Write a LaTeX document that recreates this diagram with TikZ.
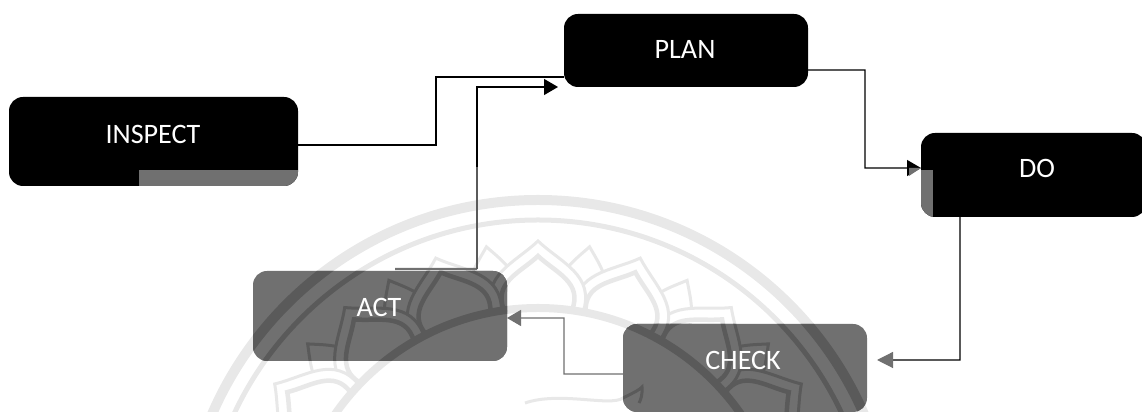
\documentclass[tikz,border=0pt]{standalone}
\usepackage{fontspec}
\setmainfont{Carlito}
\usetikzlibrary{arrows.meta}
\definecolor{boxgrey}{HTML}{707070}
\definecolor{sealpale}{HTML}{E8E8E8}
\definecolor{sealdark}{HTML}{5A5A5A}
\tikzset{
  blackbox/.style={fill=black, rounded corners=.28cm, inner sep=0pt, outer sep=0pt},
  greybox/.style={fill=boxgrey, rounded corners=.28cm, inner sep=0pt, outer sep=0pt},
  boxtext/.style={text=white, font=\fontsize{16}{16}\selectfont},
  link/.style={line width=.7pt, >={Stealth[length=.28cm, width=.32cm, inset=0pt]}},
}
% #1 line colour, #2 colour inside the petals
\newcommand{\sealmarks}[2]{
  \draw [#1, line width=.2cm] (10.76,-2.86) circle (7.1);
  \draw [#1, line width=.1cm] (10.76,-2.86) circle (6.7);
  \foreach \ang in {-85.5,-66.5,-47.5,-28.5,-9.5,9.5,28.5,47.5,66.5,85.5} {
    \begin{scope}[shift={(10.76,-2.86)}, rotate=\ang]
      \draw [#1, fill=#2, line width=.06cm] (-.5,5.3) .. controls (-.5,5.7) and (-.2,6) .. (0,6.25) .. controls (.2,6) and (.5,5.7) .. (.5,5.3);
    \end{scope}
  }
  \foreach \ang in {-76,-57,-38,-19,0,19,38,57,76} {
    \begin{scope}[shift={(10.76,-2.86)}, rotate=\ang]
      \draw [#1, fill=#2, line width=.06cm] (-.9,4.85) .. controls (-1.15,5.6) and (-.45,5.85) .. (0,6.28) .. controls (.45,5.85) and (1.15,5.6) .. (.9,4.85);
      \draw [#1, line width=.09cm] (-.68,4.9) .. controls (-.9,5.45) and (-.35,5.65) .. (0,5.98) .. controls (.35,5.65) and (.9,5.45) .. (.68,4.9);
    \end{scope}
  }
  \draw [#1, fill=#2, line width=.16cm] (10.76,-2.86) circle (4.94);
  \draw [#1, line width=.06cm] (10.5,.18) .. controls (11.2,.42) and (12.2,.1) .. (12.46,.28) .. controls (12.7,.4) and (12.8,.45) .. (12.84,.5) .. controls (12.85,.35) and (12.82,.25) .. (12.78,.18);
}

\begin{document}
\begin{tikzpicture}
  \useasboundingbox (0,0) rectangle (22.84,8.24);
  \sealmarks{sealpale}{white}

  \node [blackbox, minimum width=5.78cm, minimum height=1.78cm] (inspect) at (3.07,5.41) {};
  \node [blackbox, minimum width=4.88cm, minimum height=1.46cm] (plan) at (13.72,7.23) {};
  \node [blackbox, minimum width=4.5cm, minimum height=1.68cm] (do) at (20.67,4.74) {};
  \node [greybox, minimum width=5.08cm, minimum height=1.8cm] (act) at (7.6,1.92) {};
  \node [greybox, minimum width=4.88cm, minimum height=1.76cm] (check) at (14.9,0.88) {};

  % grey parts of the black boxes
  \begin{scope}
    \clip [rounded corners=.28cm] (inspect.south west) rectangle (inspect.north east);
    \fill [boxgrey] (2.78,4.48) rectangle (5.96,4.84);
  \end{scope}
  \begin{scope}
    \clip [rounded corners=.28cm] (do.south west) rectangle (do.north east);
    \fill [boxgrey] (18.42,3.9) rectangle (18.66,4.84);
  \end{scope}

  % seal seen through the grey boxes
  \begin{scope}
    \clip [rounded corners=.28cm] (act.south west) rectangle (act.north east);
    \sealmarks{sealdark}{boxgrey}
  \end{scope}
  \begin{scope}
    \clip [rounded corners=.28cm] (check.south west) rectangle (check.north east);
    \sealmarks{sealdark}{boxgrey}
  \end{scope}

  \node [boxtext] (inspecttext) at (3.06,5.56) {INSPECT};
  \node [boxtext] (plantext) at (13.7,7.26) {PLAN};
  \node [boxtext] (dotext) at (20.74,4.88) {DO};
  \node [boxtext] (acttext) at (7.58,2.1) {ACT};
  \node [boxtext] (checktext) at (14.86,1.04) {CHECK};

  \coordinate (inspectbend) at (8.72,5.34);
  \coordinate (actbend) at (9.54,2.86);
  \coordinate (actmid) at (9.54,4.9);
  \coordinate (planbend) at (17.3,6.84);
  \coordinate (dobend) at (19.2,1.04);
  \coordinate (checkbend) at (11.28,0.76);

  \draw [link] ([yshift=-.07cm]inspect.east) -- (inspectbend) |- ([yshift=-.53cm]plan.west);
  \draw [link, boxgrey, line width=1.2pt] ([xshift=.3cm, yshift=.04cm]act.north) -- (actbend);
  \draw [link, sealdark] (actbend) -- (actmid);
  \draw [link, ->] (actmid) |- ([xshift=-.12cm, yshift=-.73cm]plan.west);
  \draw [link, ->] ([yshift=-.39cm]plan.east) -- (planbend) |- ([yshift=.14cm]do.west);
  \fill [boxgrey] (18.18,4.88) -- (18.42,4.88) -- (18.18,4.72) -- cycle;
  \draw [link, -{Stealth[length=.32cm, width=.32cm, inset=0pt, color=boxgrey]}] ([xshift=-1.47cm]do.south) -- (dobend) -- ([xshift=.2cm, yshift=.16cm]check.east);
  \draw [link, boxgrey, ->] ([yshift=-.12cm]check.west) -- (checkbend) |- ([yshift=-.04cm]act.east);
\end{tikzpicture}
\end{document}
